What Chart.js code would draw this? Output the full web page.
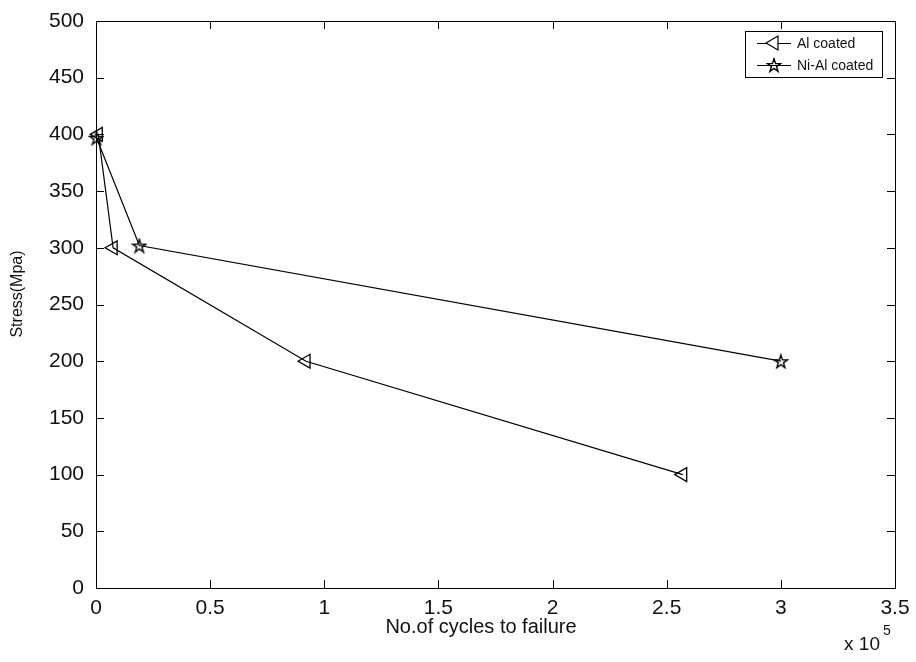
<!DOCTYPE html>
<html><head><meta charset="utf-8">
<script src="https://cdn.jsdelivr.net/npm/chart.js@4/dist/chart.umd.min.js"></script>
<style>html,body{margin:0;padding:0;background:#fff}</style>
</head><body>
<canvas id="c" width="916" height="662"></canvas>
<script>
// ---- data (x in units of 10^5 cycles) ----
const seriesNames = ['Al coated', 'Ni-Al coated'];
const alCycles = [0.01, 0.075, 0.92, 2.57];
const alStress = [400, 300, 200, 100];
const niCycles = [0.002, 0.19, 3.0];
const niStress = [397, 302, 200];
const xTicks = [0, 0.5, 1, 1.5, 2, 2.5, 3, 3.5];
const yTicks = [0, 50, 100, 150, 200, 250, 300, 350, 400, 450, 500];
const xTitle = 'No.of cycles to failure';
const yTitle = 'Stress(Mpa)';
const xExponent = '5';

const FONT = 'Arial, "Liberation Sans", Helvetica, sans-serif';
const INK = '#111';

function pentagram(size) {
  const cv = document.createElement('canvas');
  cv.width = size; cv.height = size;
  const g = cv.getContext('2d');
  const c = size / 2, R = size / 2 - 1, r = R * 0.382;
  g.beginPath();
  for (let i = 0; i < 10; i++) {
    const rad = i % 2 === 0 ? R : r;
    const a = -Math.PI / 2 + i * Math.PI / 5;
    const px = c + rad * Math.cos(a), py = c + rad * Math.sin(a) + 0.8;
    i === 0 ? g.moveTo(px, py) : g.lineTo(px, py);
  }
  g.closePath();
  g.lineWidth = 1.4; g.strokeStyle = '#000'; g.stroke();
  return cv;
}
const starImg = pentagram(16);

const toPts = (xs, ys) => xs.map((x, i) => ({x, y: ys[i]}));

const boxTicks = {
  id: 'boxTicks',
  afterDatasetsDraw(chart) {
    const {ctx, chartArea: a, scales: {x, y}} = chart;
    ctx.save();
    ctx.strokeStyle = '#000'; ctx.lineWidth = 1;
    ctx.strokeRect(Math.round(a.left) + 0.5, Math.round(a.top) + 0.5,
                   Math.round(a.right - a.left), Math.round(a.bottom - a.top));
    const L = 8;
    ctx.beginPath();
    xTicks.forEach(v => {
      const px = Math.round(x.getPixelForValue(v)) + 0.5;
      ctx.moveTo(px, a.bottom); ctx.lineTo(px, a.bottom - L);
      ctx.moveTo(px, a.top); ctx.lineTo(px, a.top + L);
    });
    yTicks.forEach(v => {
      const py = Math.round(y.getPixelForValue(v)) + 0.5;
      ctx.moveTo(a.left, py); ctx.lineTo(a.left + L, py);
      ctx.moveTo(a.right, py); ctx.lineTo(a.right - L, py);
    });
    ctx.stroke();
    ctx.restore();
  },
  afterDraw(chart) {
    const {ctx} = chart;
    ctx.save();
    ctx.fillStyle = INK;
    // axis titles
    ctx.font = '20px ' + FONT;
    ctx.textAlign = 'center';
    ctx.textBaseline = 'middle';
    ctx.fillText(xTitle, 481, 627);
    ctx.save();
    ctx.translate(18, 294);
    ctx.rotate(-Math.PI / 2);
    ctx.font = '16px ' + FONT;
    ctx.fillText(yTitle, 0, 0);
    ctx.restore();
    // exponent label
    ctx.textBaseline = 'alphabetic';
    ctx.font = '19px ' + FONT;
    ctx.textAlign = 'right';
    ctx.fillText('x 10', 880, 650);
    ctx.font = '14px ' + FONT;
    ctx.textAlign = 'left';
    ctx.fillText(xExponent, 883, 635);
    // legend
    const bx = 745, by = 31, bw = 137, bh = 46;
    ctx.fillStyle = '#fff';
    ctx.fillRect(bx, by, bw, bh);
    ctx.strokeStyle = '#000'; ctx.lineWidth = 1;
    ctx.strokeRect(bx + 0.5, by + 0.5, bw, bh);
    const rows = [by + 12, by + 34];
    chart.data.datasets.forEach((ds, i) => {
      const ry = rows[i];
      ctx.beginPath();
      ctx.moveTo(bx + 12, ry + 0.5); ctx.lineTo(bx + 46, ry + 0.5);
      ctx.strokeStyle = '#000'; ctx.lineWidth = 1.2; ctx.stroke();
      Chart.helpers.drawPoint(ctx, {
        pointStyle: ds.pointStyle, radius: ds.pointRadius, rotation: ds.pointRotation || 0,
        borderWidth: ds.pointBorderWidth
      }, bx + 29, ry);
      ctx.fillStyle = INK;
      ctx.font = '14px ' + FONT;
      ctx.textAlign = 'left';
      ctx.textBaseline = 'middle';
      ctx.fillText(ds.label, bx + 52, ry + 1);
    });
    ctx.restore();
  }
};

const tickFont = {family: FONT, size: 21};

new Chart(document.getElementById('c'), {
  type: 'line',
  data: {
    datasets: [
      {
        label: seriesNames[0], data: toPts(alCycles, alStress),
        borderColor: '#000', borderWidth: 1.2, backgroundColor: 'rgba(0,0,0,0)',
        pointStyle: 'triangle', pointRotation: -90, pointRadius: 8,
        pointBorderColor: '#000', pointBorderWidth: 1.3, pointBackgroundColor: 'rgba(0,0,0,0)',
        tension: 0, clip: false
      },
      {
        label: seriesNames[1], data: toPts(niCycles, niStress),
        borderColor: '#000', borderWidth: 1.2, backgroundColor: 'rgba(0,0,0,0)',
        pointStyle: starImg, pointRadius: 8,
        pointBorderColor: '#000', pointBackgroundColor: 'rgba(0,0,0,0)',
        tension: 0, clip: false
      }
    ]
  },
  options: {
    responsive: false, animation: false, devicePixelRatio: 1,
    layout: {padding: {left: 0, right: 21, top: 21, bottom: 0}},
    plugins: {legend: {display: false}, tooltip: {enabled: false}},
    scales: {
      x: {
        type: 'linear', min: 0, max: 3.5,
        afterBuildTicks: s => { s.ticks = xTicks.map(v => ({value: v})); },
        afterFit: s => { s.height = 74; },
        grid: {display: false},
        border: {display: true, color: '#000', width: 1},
        ticks: {font: tickFont, color: INK, padding: 0, maxRotation: 0, autoSkip: false,
                callback: v => String(v)},
        title: {display: false}
      },
      y: {
        type: 'linear', min: 0, max: 500,
        afterBuildTicks: s => { s.ticks = yTicks.map(v => ({value: v})); },
        afterFit: s => { s.width = 96; },
        grid: {display: false},
        border: {display: true, color: '#000', width: 1},
        ticks: {font: tickFont, color: INK, padding: 4, autoSkip: false,
                callback: v => String(v)},
        title: {display: false}
      }
    }
  },
  plugins: [boxTicks]
});
</script>
</body></html>
